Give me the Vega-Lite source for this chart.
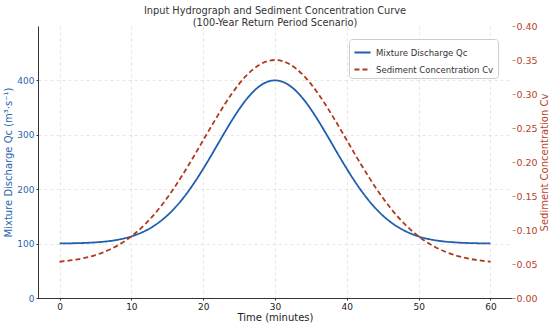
{
  "$schema": "https://vega.github.io/schema/vega-lite/v6.json",
  "width": 474,
  "height": 272,
  "autosize": {"type": "none"},
  "padding": {"left": 38, "top": 26, "right": 38, "bottom": 27},
  "background": "white",
  "config": {
    "font": "DejaVu Sans",
    "view": {"stroke": null},
    "axis": {"labelFontSize": 9.5, "titleFontSize": 10, "titleFontWeight": "normal", "gridColor": "#d5d5d5", "gridDash": [3, 3], "gridOpacity": 0.6, "tickSize": 3}
  },
  "title": {
    "text": ["Input Hydrograph and Sediment Concentration Curve", "(100-Year Return Period Scenario)"],
    "fontSize": 9.8,
    "fontWeight": "normal",
    "color": "#333333",
    "lineHeight": 12,
    "offset": -7,
    "anchor": "middle"
  },
  "data": {
    "values": [
      {"t": 0, "Q": 100.3, "Cv": 0.0533},
      {"t": 1, "Q": 100.4, "Cv": 0.0545},
      {"t": 2, "Q": 100.7, "Cv": 0.0560},
      {"t": 3, "Q": 101.0, "Cv": 0.0578},
      {"t": 4, "Q": 101.5, "Cv": 0.0602},
      {"t": 5, "Q": 102.3, "Cv": 0.0632},
      {"t": 6, "Q": 103.3, "Cv": 0.0668},
      {"t": 7, "Q": 104.8, "Cv": 0.0713},
      {"t": 8, "Q": 106.8, "Cv": 0.0767},
      {"t": 9, "Q": 109.6, "Cv": 0.0831},
      {"t": 10, "Q": 113.2, "Cv": 0.0906},
      {"t": 11, "Q": 117.9, "Cv": 0.0993},
      {"t": 12, "Q": 123.9, "Cv": 0.1094},
      {"t": 13, "Q": 131.4, "Cv": 0.1207},
      {"t": 14, "Q": 140.6, "Cv": 0.1334},
      {"t": 15, "Q": 151.7, "Cv": 0.1474},
      {"t": 16, "Q": 164.9, "Cv": 0.1626},
      {"t": 17, "Q": 180.1, "Cv": 0.1789},
      {"t": 18, "Q": 197.4, "Cv": 0.1960},
      {"t": 19, "Q": 216.6, "Cv": 0.2138},
      {"t": 20, "Q": 237.4, "Cv": 0.2320},
      {"t": 21, "Q": 259.3, "Cv": 0.2501},
      {"t": 22, "Q": 282.0, "Cv": 0.2678},
      {"t": 23, "Q": 304.6, "Cv": 0.2848},
      {"t": 24, "Q": 326.5, "Cv": 0.3006},
      {"t": 25, "Q": 346.8, "Cv": 0.3148},
      {"t": 26, "Q": 364.8, "Cv": 0.3269},
      {"t": 27, "Q": 379.6, "Cv": 0.3368},
      {"t": 28, "Q": 390.8, "Cv": 0.3441},
      {"t": 29, "Q": 397.7, "Cv": 0.3485},
      {"t": 30, "Q": 400.0, "Cv": 0.3500},
      {"t": 31, "Q": 397.7, "Cv": 0.3485},
      {"t": 32, "Q": 390.8, "Cv": 0.3441},
      {"t": 33, "Q": 379.6, "Cv": 0.3368},
      {"t": 34, "Q": 364.8, "Cv": 0.3269},
      {"t": 35, "Q": 346.8, "Cv": 0.3148},
      {"t": 36, "Q": 326.5, "Cv": 0.3006},
      {"t": 37, "Q": 304.6, "Cv": 0.2848},
      {"t": 38, "Q": 282.0, "Cv": 0.2678},
      {"t": 39, "Q": 259.3, "Cv": 0.2501},
      {"t": 40, "Q": 237.4, "Cv": 0.2320},
      {"t": 41, "Q": 216.6, "Cv": 0.2138},
      {"t": 42, "Q": 197.4, "Cv": 0.1960},
      {"t": 43, "Q": 180.1, "Cv": 0.1789},
      {"t": 44, "Q": 164.9, "Cv": 0.1626},
      {"t": 45, "Q": 151.7, "Cv": 0.1474},
      {"t": 46, "Q": 140.6, "Cv": 0.1334},
      {"t": 47, "Q": 131.4, "Cv": 0.1207},
      {"t": 48, "Q": 123.9, "Cv": 0.1094},
      {"t": 49, "Q": 117.9, "Cv": 0.0993},
      {"t": 50, "Q": 113.2, "Cv": 0.0906},
      {"t": 51, "Q": 109.6, "Cv": 0.0831},
      {"t": 52, "Q": 106.8, "Cv": 0.0767},
      {"t": 53, "Q": 104.8, "Cv": 0.0713},
      {"t": 54, "Q": 103.3, "Cv": 0.0668},
      {"t": 55, "Q": 102.3, "Cv": 0.0632},
      {"t": 56, "Q": 101.5, "Cv": 0.0602},
      {"t": 57, "Q": 101.0, "Cv": 0.0578},
      {"t": 58, "Q": 100.7, "Cv": 0.0560},
      {"t": 59, "Q": 100.4, "Cv": 0.0545},
      {"t": 60, "Q": 100.3, "Cv": 0.0533}
    ]
  },
  "encoding": {
    "x": {
      "field": "t",
      "type": "quantitative",
      "scale": {"domain": [-3, 63], "nice": false, "zero": false},
      "axis": {"values": [0, 10, 20, 30, 40, 50, 60], "title": "Time (minutes)", "titleColor": "#222222", "labelColor": "#222222", "labelFontSize": 9, "domainColor": "#333333", "tickColor": "#333333", "tickSize": 2, "titlePadding": 1, "labelPadding": 2}
    }
  },
  "layer": [
    {
      "mark": {"type": "line", "strokeWidth": 1.8, "interpolate": "monotone"},
      "encoding": {
        "y": {
          "field": "Q",
          "type": "quantitative",
          "scale": {"domain": [0, 500], "nice": false},
          "axis": {"orient": "left", "values": [0, 100, 200, 300, 400], "title": "Mixture Discharge Qc (m³·s⁻¹)", "titleColor": "#2a64b0", "labelColor": "#2a64b0", "labelFontSize": 9, "domainColor": "#333333", "tickColor": "#333333", "tickSize": 2, "labelPadding": 2, "titlePadding": 3}
        },
        "color": {
          "datum": "Mixture Discharge Qc",
          "type": "nominal",
          "scale": {"domain": ["Mixture Discharge Qc", "Sediment Concentration Cv"], "range": ["#1f5fae", "#b03a1f"]},
          "legend": {"title": null, "orient": "none", "legendX": 311, "legendY": 13, "labelFontSize": 8.5, "labelColor": "#333333", "symbolType": "stroke", "symbolSize": 260, "symbolStrokeWidth": 2, "strokeColor": "#cccccc", "fillColor": "white", "padding": 4, "cornerRadius": 3, "rowPadding": 3, "labelLimit": 200}
        },
        "strokeDash": {
          "datum": "Mixture Discharge Qc",
          "type": "nominal",
          "scale": {"domain": ["Mixture Discharge Qc", "Sediment Concentration Cv"], "range": [[1, 0], [5, 3]]},
          "legend": {"title": null, "orient": "none", "legendX": 311, "legendY": 13, "labelFontSize": 8.5, "labelColor": "#333333", "symbolType": "stroke", "symbolSize": 260, "symbolStrokeWidth": 2, "strokeColor": "#cccccc", "fillColor": "white", "padding": 4, "cornerRadius": 3, "rowPadding": 3, "labelLimit": 200}
        }
      }
    },
    {
      "mark": {"type": "line", "strokeWidth": 1.8, "interpolate": "monotone"},
      "encoding": {
        "y": {
          "field": "Cv",
          "type": "quantitative",
          "scale": {"domain": [0, 0.4], "nice": false},
          "axis": {"orient": "right", "values": [0, 0.05, 0.1, 0.15, 0.2, 0.25, 0.3, 0.35, 0.4], "format": ".2f", "title": "Sediment Concentration Cv", "titleAngle": 270, "titleBaseline": "top", "titleColor": "#b8432a", "labelColor": "#b8432a", "domain": false, "tickColor": "#999999", "tickSize": 3, "labelPadding": 1, "titlePadding": 2}
        },
        "color": {"datum": "Sediment Concentration Cv", "type": "nominal"},
        "strokeDash": {"datum": "Sediment Concentration Cv", "type": "nominal"}
      }
    }
  ],
  "resolve": {"scale": {"y": "independent"}}
}
